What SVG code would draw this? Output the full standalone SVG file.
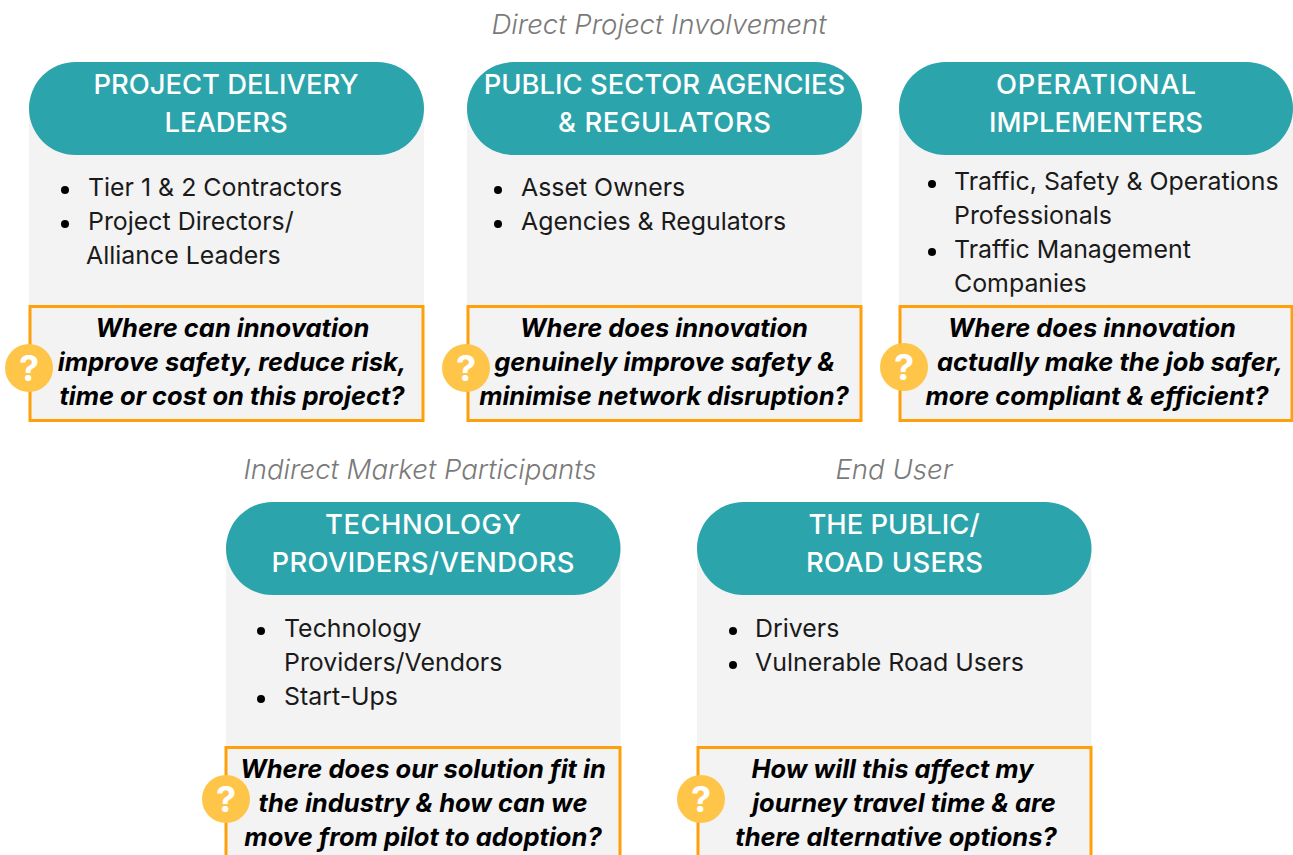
<svg xmlns="http://www.w3.org/2000/svg" width="1293" height="855" viewBox="0 0 1293 855">
<style>
.card{fill:#f3f3f3}
.pill{fill:#2ca4ab}
.head{fill:#fff;font-size:27.400px;font-weight:500;text-anchor:middle;font-family:Inter,sans-serif}
.item{fill:#1a1a1a;font-size:24.900px;font-family:Inter,sans-serif}
.q{fill:#000;font-size:25.500px;font-weight:700;font-style:italic;text-anchor:middle;font-family:Inter,sans-serif}
.box{fill:#f3f3f3;stroke:#ff9f0a;stroke-width:3}
.badge{fill:#ffc548}
.mark{fill:#fff;font-size:36px;font-weight:700;text-anchor:middle;font-family:Inter,sans-serif}
.cat{fill:#7a7a7a;font-size:27.600px;font-weight:300;font-style:italic;text-anchor:middle;font-family:Inter,sans-serif}
</style>
<rect width="1293" height="855" fill="#fff"/>
<text class="cat" x="659" y="34">Direct Project Involvement</text>
<text class="cat" x="420" y="479">Indirect Market Participants</text>
<text class="cat" x="894" y="479">End User</text>
<g id="n1">
<rect class="card" x="29" y="100" width="395" height="210"/>
<rect class="pill" x="29" y="62" width="395" height="93" rx="46.5"/>
<text class="head" x="226" y="94">PROJECT DELIVERY</text><text class="head" x="226" y="132">LEADERS</text>
<circle cx="65" cy="190" r="4"/><circle cx="65" cy="224" r="4"/>
<text class="item" x="88" y="196">Tier 1 &amp; 2 Contractors</text>
<text class="item" x="88" y="230">Project Directors/</text><text class="item" x="86" y="264">Alliance Leaders</text>
<rect class="box" x="30" y="306.500" width="393" height="114"/>
<text class="q" x="232.500" y="337">Where can innovation</text><text class="q" x="232" y="371">improve safety, reduce risk,</text><text class="q" x="232" y="405">time or cost on this project?</text>
<circle class="badge" cx="29" cy="368" r="24"/><text class="mark" x="29" y="381">?</text>
</g>
<g id="n2">
<rect class="card" x="467" y="100" width="395" height="210"/>
<rect class="pill" x="467" y="62" width="395" height="93" rx="46.5"/>
<text class="head" x="664.500" y="94">PUBLIC SECTOR AGENCIES</text><text class="head" x="664.500" y="132" textLength="213">&amp; REGULATORS</text>
<circle cx="498" cy="190" r="4"/><circle cx="498" cy="224" r="4"/>
<text class="item" x="521" y="196">Asset Owners</text><text class="item" x="521" y="230">Agencies &amp; Regulators</text>
<rect class="box" x="468" y="306.500" width="393" height="114"/>
<text class="q" x="664" y="337">Where does innovation</text><text class="q" x="664.500" y="371">genuinely improve safety &amp;</text><text class="q" x="664" y="405">minimise network disruption?</text>
<circle class="badge" cx="466" cy="368" r="24"/><text class="mark" x="466" y="381">?</text>
</g>
<g id="n3">
<rect class="card" x="899" y="100" width="394" height="210"/>
<rect class="pill" x="899" y="62" width="394" height="93" rx="46.5"/>
<text class="head" x="1096" y="94" textLength="200">OPERATIONAL</text><text class="head" x="1096" y="132">IMPLEMENTERS</text>
<circle cx="932" cy="184" r="4"/><circle cx="932" cy="252" r="4"/>
<text class="item" x="954" y="190">Traffic, Safety &amp; Operations</text><text class="item" x="954" y="224">Professionals</text>
<text class="item" x="954" y="258">Traffic Management</text><text class="item" x="954" y="292">Companies</text>
<rect class="box" x="900" y="306.500" width="392" height="114"/>
<text class="q" x="1092" y="337">Where does innovation</text><text class="q" x="1110" y="371">actually make the job safer,</text><text class="q" x="1097" y="405">more compliant &amp; efficient?</text>
<circle class="badge" cx="904" cy="367" r="24"/><text class="mark" x="904" y="380">?</text>
</g>
<g id="n4">
<rect class="card" x="226" y="540" width="394.500" height="210"/>
<rect class="pill" x="226" y="502" width="394.500" height="93" rx="46.5"/>
<text class="head" x="423" y="534" textLength="196">TECHNOLOGY</text><text class="head" x="423" y="572" textLength="303">PROVIDERS/VENDORS</text>
<circle cx="261" cy="631" r="4"/><circle cx="261" cy="699" r="4"/>
<text class="item" x="284" y="637">Technology</text><text class="item" x="284" y="671">Providers/Vendors</text><text class="item" x="284" y="705">Start-Ups</text>
<rect class="box" x="226" y="747.500" width="394" height="114"/>
<text class="q" x="423" y="778">Where does our solution fit in</text><text class="q" x="423" y="812">the industry &amp; how can we</text><text class="q" x="423" y="846">move from pilot to adoption?</text>
<circle class="badge" cx="226" cy="799" r="24"/><text class="mark" x="226" y="812">?</text>
</g>
<g id="n5">
<rect class="card" x="697" y="540" width="394.500" height="210"/>
<rect class="pill" x="697" y="502" width="394.500" height="93" rx="46.5"/>
<text class="head" x="894" y="534">THE PUBLIC/</text><text class="head" x="894.500" y="572" textLength="177">ROAD USERS</text>
<circle cx="733" cy="631" r="4"/><circle cx="733" cy="665" r="4"/>
<text class="item" x="755" y="637">Drivers</text><text class="item" x="755" y="671">Vulnerable Road Users</text>
<rect class="box" x="698" y="747.500" width="393" height="114"/>
<text class="q" x="892.500" y="778">How will this affect my</text><text class="q" x="904" y="812">journey travel time &amp; are</text><text class="q" x="896" y="846">there alternative options?</text>
<circle class="badge" cx="701" cy="799" r="24"/><text class="mark" x="701" y="812">?</text>
</g>
<g id="connectors"/>
</svg>
